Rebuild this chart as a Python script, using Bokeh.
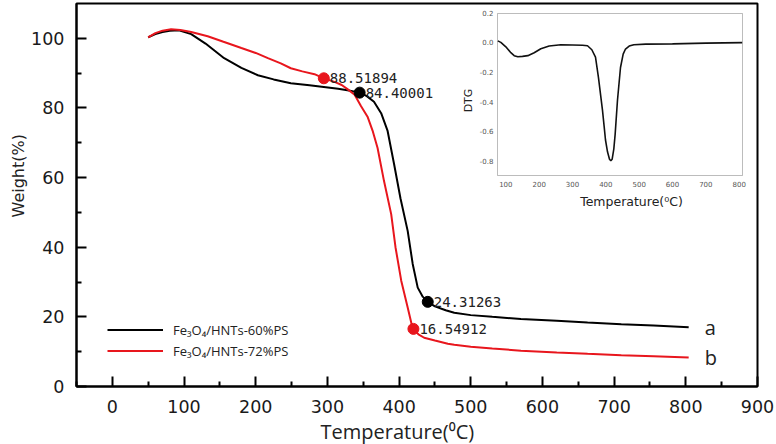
import math
from bokeh.plotting import figure
from bokeh.models import (Range1d, FixedTicker, Legend, LegendItem, Label, Title,
                          BoxAnnotation)
from bokeh.core.properties import value
from bokeh.embed import file_html
from bokeh.resources import INLINE

# ---------------- data ----------------
temp_a = [50, 60, 70, 80, 93, 110, 130, 156, 180, 203, 225, 249, 275, 295, 315, 330, 345,
          355, 365, 375, 384, 393, 402, 412, 419, 426, 433, 440, 450, 465, 477, 500, 530,
          570, 620, 663, 710, 755, 804]
weight_a = [100.3, 101.2, 101.8, 102.2, 102.3, 101.2, 98.5, 94.3, 91.5, 89.4, 88.2, 87.1,
            86.5, 86.0, 85.5, 85.0, 84.4, 83.4, 81.8, 78.5, 73.4, 63.9, 54.0, 44.7, 35.2,
            28.4, 25.8, 24.3, 23.0, 21.9, 21.2, 20.5, 20.0, 19.4, 18.9, 18.4, 17.9, 17.5, 17.0]

temp_b = [50, 60, 70, 82, 95, 110, 133, 155, 180, 200, 217, 235, 249, 265, 282, 295, 310,
          320, 328, 338, 347, 356, 363, 370, 379, 389, 395, 403, 412, 419, 427, 435, 450,
          468, 477, 500, 530, 570, 620, 663, 710, 755, 804]
weight_b = [100.3, 101.5, 102.2, 102.6, 102.4, 101.8, 100.6, 99.0, 97.2, 95.8, 94.3, 92.8,
            91.4, 90.5, 89.7, 88.5, 87.5, 86.6, 85.4, 83.8, 80.5, 77.5, 73.5, 68.5, 59.0,
            49.5, 40.0, 30.4, 22.7, 16.6, 15.0, 14.0, 13.2, 12.3, 12.0, 11.4, 10.9, 10.3,
            9.8, 9.4, 9.0, 8.7, 8.3]

mark_a_t = [345, 440]
mark_a_w = [84.40001, 24.31263]
mark_a_txt = ["84.40001", "24.31263"]
mark_b_t = [295, 420]
mark_b_w = [88.51894, 16.54912]
mark_b_txt = ["88.51894", "16.54912"]

series_names = ["Fe₃O₄/HNTs-60%PS", "Fe₃O₄/HNTs-72%PS"]
curve_tags = ["a", "b"]

x_ticks = [0, 100, 200, 300, 400, 500, 600, 700, 800, 900]
x_minor = [-50, 50, 150, 250, 350, 450, 550, 650, 750, 850]
y_ticks = [0, 20, 40, 60, 80, 100]
y_minor = [10, 30, 50, 70, 90]

# inset (DTG)
dtg_t = [76, 85, 100, 115, 125, 136, 150, 166, 185, 205, 230, 265, 300, 330, 345, 358, 369,
         378, 384, 390, 395, 399, 405, 411, 415, 419, 424, 428, 435, 444, 452, 459, 470,
         484, 520, 600, 700, 809]
dtg_v = [0.01, 0.0, -0.03, -0.07, -0.09, -0.097, -0.095, -0.09, -0.07, -0.043, -0.025,
         -0.016, -0.018, -0.02, -0.023, -0.05, -0.10, -0.24, -0.35, -0.46, -0.57, -0.66,
         -0.74, -0.79, -0.80, -0.79, -0.72, -0.62, -0.39, -0.17, -0.08, -0.045, -0.025,
         -0.016, -0.012, -0.01, -0.005, -0.002]
inset_x_ticks = [100, 200, 300, 400, 500, 600, 700, 800]
inset_x_labels = ["100", "200", "300", "400", "500", "600", "700", "800"]
inset_y_ticks = [0.2, 0.0, -0.2, -0.4, -0.6, -0.8]
inset_y_labels = ["0.2", "0.0", "-0.2", "-0.4", "-0.6", "-0.8"]

# ---------------- layout constants (picture pixels) ----------------
W, H = 776, 444
FL, FR, FT, FB = 76, 757, 3, 386            # main frame
X0, X1 = -50, 900
Y0, Y1 = 0, 110
IL, IR, IT, IB = 497, 742, 13, 175          # inset box
IX0, IX1, IY0, IY1 = 75, 810, -0.9, 0.195   # inset data extents

sx = (IR - IL) / (IX1 - IX0)
sy = (IB - IT) / (IY1 - IY0)
ix_start = IX0 - (IL - FL) / sx
ix_end = IX1 + (FR - IR) / sx
iy_start = IY0 - (FB - IB) / sy
iy_end = IY1 + (IT - FT) / sy

RED = "#e8161d"
BLACK = "#000000"

p = figure(width=W, height=H, output_backend="svg", toolbar_location=None,
           x_range=Range1d(X0, X1), y_range=Range1d(Y0, Y1),
           min_border_left=FL, min_border_right=W - FR,
           min_border_top=FT, min_border_bottom=H - FB)
p.extra_x_ranges = {"ix": Range1d(ix_start, ix_end)}
p.extra_y_ranges = {"iy": Range1d(iy_start, iy_end)}

p.xgrid.visible = False
p.ygrid.visible = False
p.outline_line_color = "black"
p.outline_line_width = 2
p.background_fill_color = "white"
p.border_fill_color = "white"

p.xaxis.ticker = FixedTicker(ticks=x_ticks, minor_ticks=x_minor)
p.yaxis.ticker = FixedTicker(ticks=y_ticks, minor_ticks=y_minor)
for ax in (p.xaxis, p.yaxis):
    ax.axis_line_width = 2
    ax.major_tick_in = 10
    ax.major_tick_out = 0
    ax.minor_tick_in = 5
    ax.minor_tick_out = 0
    ax.major_tick_line_width = 2
    ax.minor_tick_line_width = 2
    ax.major_label_text_font = "DejaVu Sans"
    ax.major_label_text_font_size = "17.5px"
    ax.major_label_text_color = "#1a1a1a"
p.xaxis.major_label_standoff = 13
p.yaxis.major_label_standoff = 12

# axis titles (as side titles so they can be offset like the reference)
p.add_layout(Title(text="Temperature(⁰C)", align="left", offset=244, standoff=0,
                   text_font="Open Sans", text_font_size="20px",
                   text_font_style="normal", text_color="#222222"), "below")
p.add_layout(Title(text="Weight(%)", align="left", offset=169, standoff=2,
                   text_font="DejaVu Sans", text_font_size="16px",
                   text_font_style="normal", text_color="#222222"), "left")

# main curves
la = p.line(temp_a, weight_a, line_color=BLACK, line_width=2)
lb = p.line(temp_b, weight_b, line_color=RED, line_width=2)

p.scatter(mark_a_t, mark_a_w, size=11, color=BLACK)
p.scatter(mark_b_t, mark_b_w, size=11, color=RED)
p.text(mark_a_t, mark_a_w, text=mark_a_txt, x_offset=6, text_baseline="middle",
       text_font=value("DejaVu Sans Mono"), text_font_size="14px", text_color="#222222")
p.text(mark_b_t, mark_b_w, text=mark_b_txt, x_offset=6, text_baseline="middle",
       text_font=value("DejaVu Sans Mono"), text_font_size="14px", text_color="#222222")

p.text([temp_a[-1], temp_b[-1]], [weight_a[-1], weight_b[-1]], text=curve_tags,
       x_offset=16, text_baseline="middle", text_font=value("Open Sans"),
       text_font_size="20px", text_color="#222222")

legend = Legend(items=[LegendItem(label=series_names[0], renderers=[la]),
                       LegendItem(label=series_names[1], renderers=[lb])],
                location=(31, 25), glyph_width=56, glyph_height=21, label_height=21,
                spacing=0, padding=0, margin=0, border_line_alpha=0,
                background_fill_alpha=0, label_standoff=10,
                label_text_font="Open Sans", label_text_font_size="13px",
                label_text_color="#222222")
p.add_layout(legend)

# ---------------- inset ----------------
p.add_layout(BoxAnnotation(left=IX0, right=IX1, bottom=IY0, top=IY1,
                           x_range_name="ix", y_range_name="iy",
                           fill_alpha=0, line_color="#222222", line_width=1))
p.line(dtg_t, dtg_v, x_range_name="ix", y_range_name="iy",
       line_color="#111111", line_width=1.6)
p.text(inset_x_ticks, [IY0] * len(inset_x_ticks), text=inset_x_labels,
       x_range_name="ix", y_range_name="iy", y_offset=8, text_align="center",
       text_baseline="middle", text_font=value("DejaVu Sans"),
       text_font_size="7px", text_color="#555555")
p.text([IX0] * len(inset_y_ticks), inset_y_ticks, text=inset_y_labels,
       x_range_name="ix", y_range_name="iy", x_offset=-4, text_align="right",
       text_baseline="middle", text_font=value("DejaVu Sans"),
       text_font_size="7px", text_color="#555555")
p.add_layout(Label(x=468 - FL, y=FB - 100, x_units="screen", y_units="screen",
                   text="DTG", angle=math.pi / 2, text_align="center",
                   text_baseline="middle", text_font="DejaVu Sans",
                   text_font_size="11px", text_color="#222222"))
p.add_layout(Label(x=631 - FL, y=FB - 201, x_units="screen", y_units="screen",
                   text="Temperature(⁰C)", text_align="center", text_baseline="middle",
                   text_font="DejaVu Sans", text_font_size="12.5px",
                   text_color="#222222"))

open("out.html", "w").write(file_html(p, INLINE))
